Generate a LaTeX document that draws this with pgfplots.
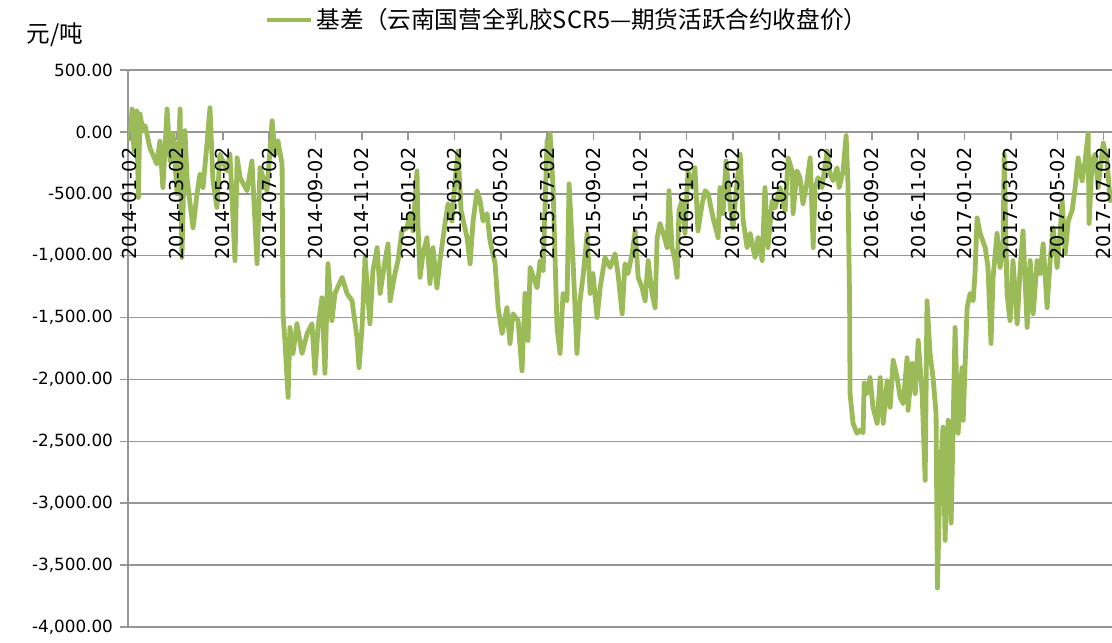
\documentclass[border=0pt]{standalone}
\usepackage{pgfplots}
\pgfplotsset{compat=1.18}
\usepackage{fontspec}
\setmainfont{DejaVu Sans}
\newfontfamily\cjk{Noto Sans CJK SC}
\definecolor{basis}{RGB}{155,187,89}
\definecolor{gridgray}{RGB}{150,150,150}
\pgfplotsset{
    layers/labels on top/.define layer set={
        axis background,axis grid,axis lines,main,axis ticks,
        axis tick labels,axis descriptions,axis foreground
    }{
        grid style={/pgfplots/on layer=axis grid},
        tick style={/pgfplots/on layer=axis ticks},
        axis line style={/pgfplots/on layer=axis lines},
        label style={/pgfplots/on layer=axis descriptions},
        legend style={/pgfplots/on layer=axis descriptions},
        title style={/pgfplots/on layer=axis descriptions},
        ticklabel style={/pgfplots/on layer=axis tick labels},
        axis background@ style={/pgfplots/on layer=axis background},
    },
}
\begin{document}
\begin{tikzpicture}
\begin{axis}[
    set layers=labels on top,
    at={(64pt,7.5pt)},
    anchor=south west,
    scale only axis,
    width=492pt,
    height=278.5pt,
    xmin=-0.086, xmax=42.36,
    ymin=-4000, ymax=500,
    axis x line=middle,
    axis y line=left,
    axis line style={draw=gridgray, line width=0.8pt, -},
    tick style={draw=gridgray, line width=0.8pt},
    tick align=outside,
    major tick length=4pt,
    xtick={0,2,...,42},
    xticklabels={2014-01-02,2014-03-02,2014-05-02,2014-07-02,2014-09-02,2014-11-02,
                 2015-01-02,2015-03-02,2015-05-02,2015-07-02,2015-09-02,2015-11-02,
                 2016-01-02,2016-03-02,2016-05-02,2016-07-02,2016-09-02,2016-11-02,
                 2017-01-02,2017-03-02,2017-05-02,2017-07-02},
    xticklabel style={rotate=90, anchor=east, inner sep=0.4pt,
        font=\fontsize{9.6}{10}\selectfont, xshift=-3.3pt, yshift=0pt},
    ytick={-4000,-3500,...,500},
    ymajorgrids,
    grid style={draw=gridgray, line width=0.8pt},
    yticklabel style={font=\fontsize{8.4}{10}\selectfont,
        /pgf/number format/.cd, fixed, fixed zerofill, precision=2, 1000 sep={,},
        assume math mode=true},
    ylabel={\cjk 元/吨},
    ylabel style={rotate=-90, anchor=west, inner sep=0pt,
        at={(axis description cs:-0.1036,1.0628)}, font=\fontsize{11.8}{13}\selectfont},
    legend style={at={(axis description cs:0.138,1.0898)}, anchor=west,
        draw=none, fill=none, inner sep=0pt,
        font=\cjk\fontsize{11.8}{13}\selectfont},
    legend image code/.code={\draw[#1] (0pt,0pt) -- (22pt,0pt);},
    ]
\addplot[basis, line width=2.4pt, line join=round] coordinates {
(0.00,-75) (0.09,185) (0.17,-155) (0.29,170) (0.36,-530) (0.43,145)
(0.56,10) (0.65,50) (0.86,-130) (1.16,-260) (1.29,-75) (1.42,-450)
(1.60,185) (1.73,-235) (1.86,-15) (2.03,-500) (2.16,185) (2.24,-1015)
(2.37,10) (2.46,-370) (2.59,-580) (2.72,-775) (2.89,-500) (3.02,-340)
(3.15,-450) (3.32,-95) (3.45,195) (3.58,-395) (3.75,-610) (3.88,-180)
(4.18,-315) (4.31,-180) (4.53,-1040) (4.62,-210) (4.75,-370) (5.05,-475)
(5.26,-235) (5.48,-1065) (5.61,-290) (5.91,-475) (6.13,90) (6.26,-180)
(6.38,-70) (6.56,-260) (6.60,-1470) (6.69,-1710) (6.82,-2145) (6.90,-1580)
(7.03,-1790) (7.20,-1550) (7.42,-1790) (7.64,-1630) (7.85,-1550) (7.98,-1950)
(8.11,-1580) (8.28,-1340) (8.41,-1950) (8.54,-1065) (8.71,-1525) (8.84,-1305)
(9.15,-1175) (9.36,-1305) (9.58,-1365) (9.79,-1660) (9.88,-1905) (10.01,-1580)
(10.14,-1015) (10.35,-1550) (10.48,-1120) (10.66,-935) (10.79,-1305) (11.00,-1040)
(11.13,-905) (11.22,-1365) (11.43,-1145) (11.56,-1040) (11.73,-800) (11.95,-775)
(12.08,-660) (12.21,-800) (12.38,-315) (12.42,-740) (12.51,-1175) (12.64,-985)
(12.81,-855) (12.94,-1225) (13.07,-935) (13.24,-1260) (13.37,-1040) (13.59,-740)
(13.72,-580) (13.89,-720) (14.02,-395) (14.15,-155) (14.28,-635) (14.54,-855)
(14.67,-1065) (14.80,-720) (14.97,-475) (15.10,-555) (15.23,-720) (15.40,-660)
(15.53,-880) (15.75,-1065) (15.88,-1420) (16.05,-1630) (16.26,-1420) (16.39,-1710)
(16.52,-1470) (16.74,-1525) (16.91,-1930) (17.04,-1305) (17.17,-1685) (17.26,-1095)
(17.56,-1260) (17.69,-1040) (17.82,-1120) (17.99,-75) (18.12,-15) (18.25,-450)
(18.42,-1580) (18.55,-1790) (18.68,-1305) (18.85,-1365) (18.94,-420) (19.11,-1040)
(19.28,-1790) (19.41,-1365) (19.54,-1175) (19.72,-820) (19.85,-1305) (19.97,-1145)
(20.15,-1500) (20.28,-1260) (20.49,-1015) (20.71,-1095) (20.92,-985) (21.05,-1145)
(21.23,-1470) (21.35,-1065) (21.48,-1145) (21.66,-985) (21.79,-800) (21.92,-1175)
(22.09,-1260) (22.22,-1365) (22.35,-1040) (22.52,-1305) (22.65,-1420) (22.74,-855)
(22.86,-740) (23.00,-820) (23.17,-935) (23.25,-475) (23.38,-935) (23.51,-1040)
(23.60,-1175) (23.68,-635) (23.81,-555) (23.94,-820) (24.07,-315) (24.25,-450)
(24.37,-290) (24.50,-800) (24.68,-580) (24.81,-475) (24.94,-500) (25.15,-695)
(25.37,-855) (25.45,-450) (25.58,-660) (25.71,-235) (25.88,-580) (26.01,-775)
(26.19,-395) (26.32,-180) (26.45,-720) (26.62,-935) (26.75,-820) (26.96,-1015)
(27.09,-855) (27.27,-1040) (27.39,-450) (27.52,-935) (27.70,-555) (27.83,-615)
(28.04,-450) (28.26,-635) (28.39,-210) (28.56,-315) (28.60,-660) (28.77,-315)
(28.90,-370) (29.03,-580) (29.21,-395) (29.34,-210) (29.47,-935) (29.55,-450)
(29.68,-370) (29.85,-450) (30.07,-155) (30.20,-340) (30.33,-395) (30.50,-290)
(30.59,-450) (30.76,-315) (30.89,-30) (30.97,-420) (31.04,-1365) (31.06,-2115)
(31.19,-2355) (31.36,-2435) (31.49,-2410) (31.62,-2430) (31.67,-2030) (31.79,-2115)
(31.92,-1985) (32.05,-2225) (32.23,-2355) (32.36,-1985) (32.49,-2355) (32.66,-2010)
(32.79,-2225) (32.92,-1845) (33.09,-1985) (33.22,-2145) (33.35,-2195) (33.52,-1825)
(33.56,-2250) (33.74,-1870) (33.87,-2115) (34.00,-1685) (34.17,-2115) (34.30,-2815)
(34.38,-1365) (34.51,-1790) (34.64,-1985) (34.77,-2275) (34.83,-3685) (34.94,-2790)
(35.07,-2385) (35.16,-3300) (35.29,-2330) (35.42,-3160) (35.50,-2435) (35.59,-1580)
(35.72,-2435) (35.89,-1905) (35.94,-2330) (36.11,-1420) (36.24,-1305) (36.37,-1365)
(36.45,-1145) (36.54,-695) (36.67,-820) (36.89,-935) (37.01,-1095) (37.14,-1710)
(37.23,-1175) (37.40,-820) (37.53,-1095) (37.66,-935) (37.71,-180) (37.83,-1305)
(37.96,-1525) (38.09,-1040) (38.27,-1550) (38.40,-1095) (38.52,-800) (38.70,-1580)
(38.83,-1040) (38.96,-1470) (39.13,-1040) (39.26,-1145) (39.39,-905) (39.56,-1420)
(39.69,-1040) (39.82,-775) (39.99,-1095) (40.12,-820) (40.21,-555) (40.34,-985)
(40.47,-720) (40.64,-635) (40.77,-450) (40.90,-210) (41.07,-395) (41.20,-235)
(41.33,-10) (41.37,-740) (41.50,-235) (41.63,-180) (41.76,-450) (41.98,-90)
(42.15,-235) (42.28,-555) (42.36,-475)
};
\legend{基差（云南国营全乳胶SCR5—期货活跃合约收盘价）}
\end{axis}
\pgfresetboundingbox
\useasboundingbox (0,0) rectangle (556pt,321pt);
\end{tikzpicture}
\end{document}
